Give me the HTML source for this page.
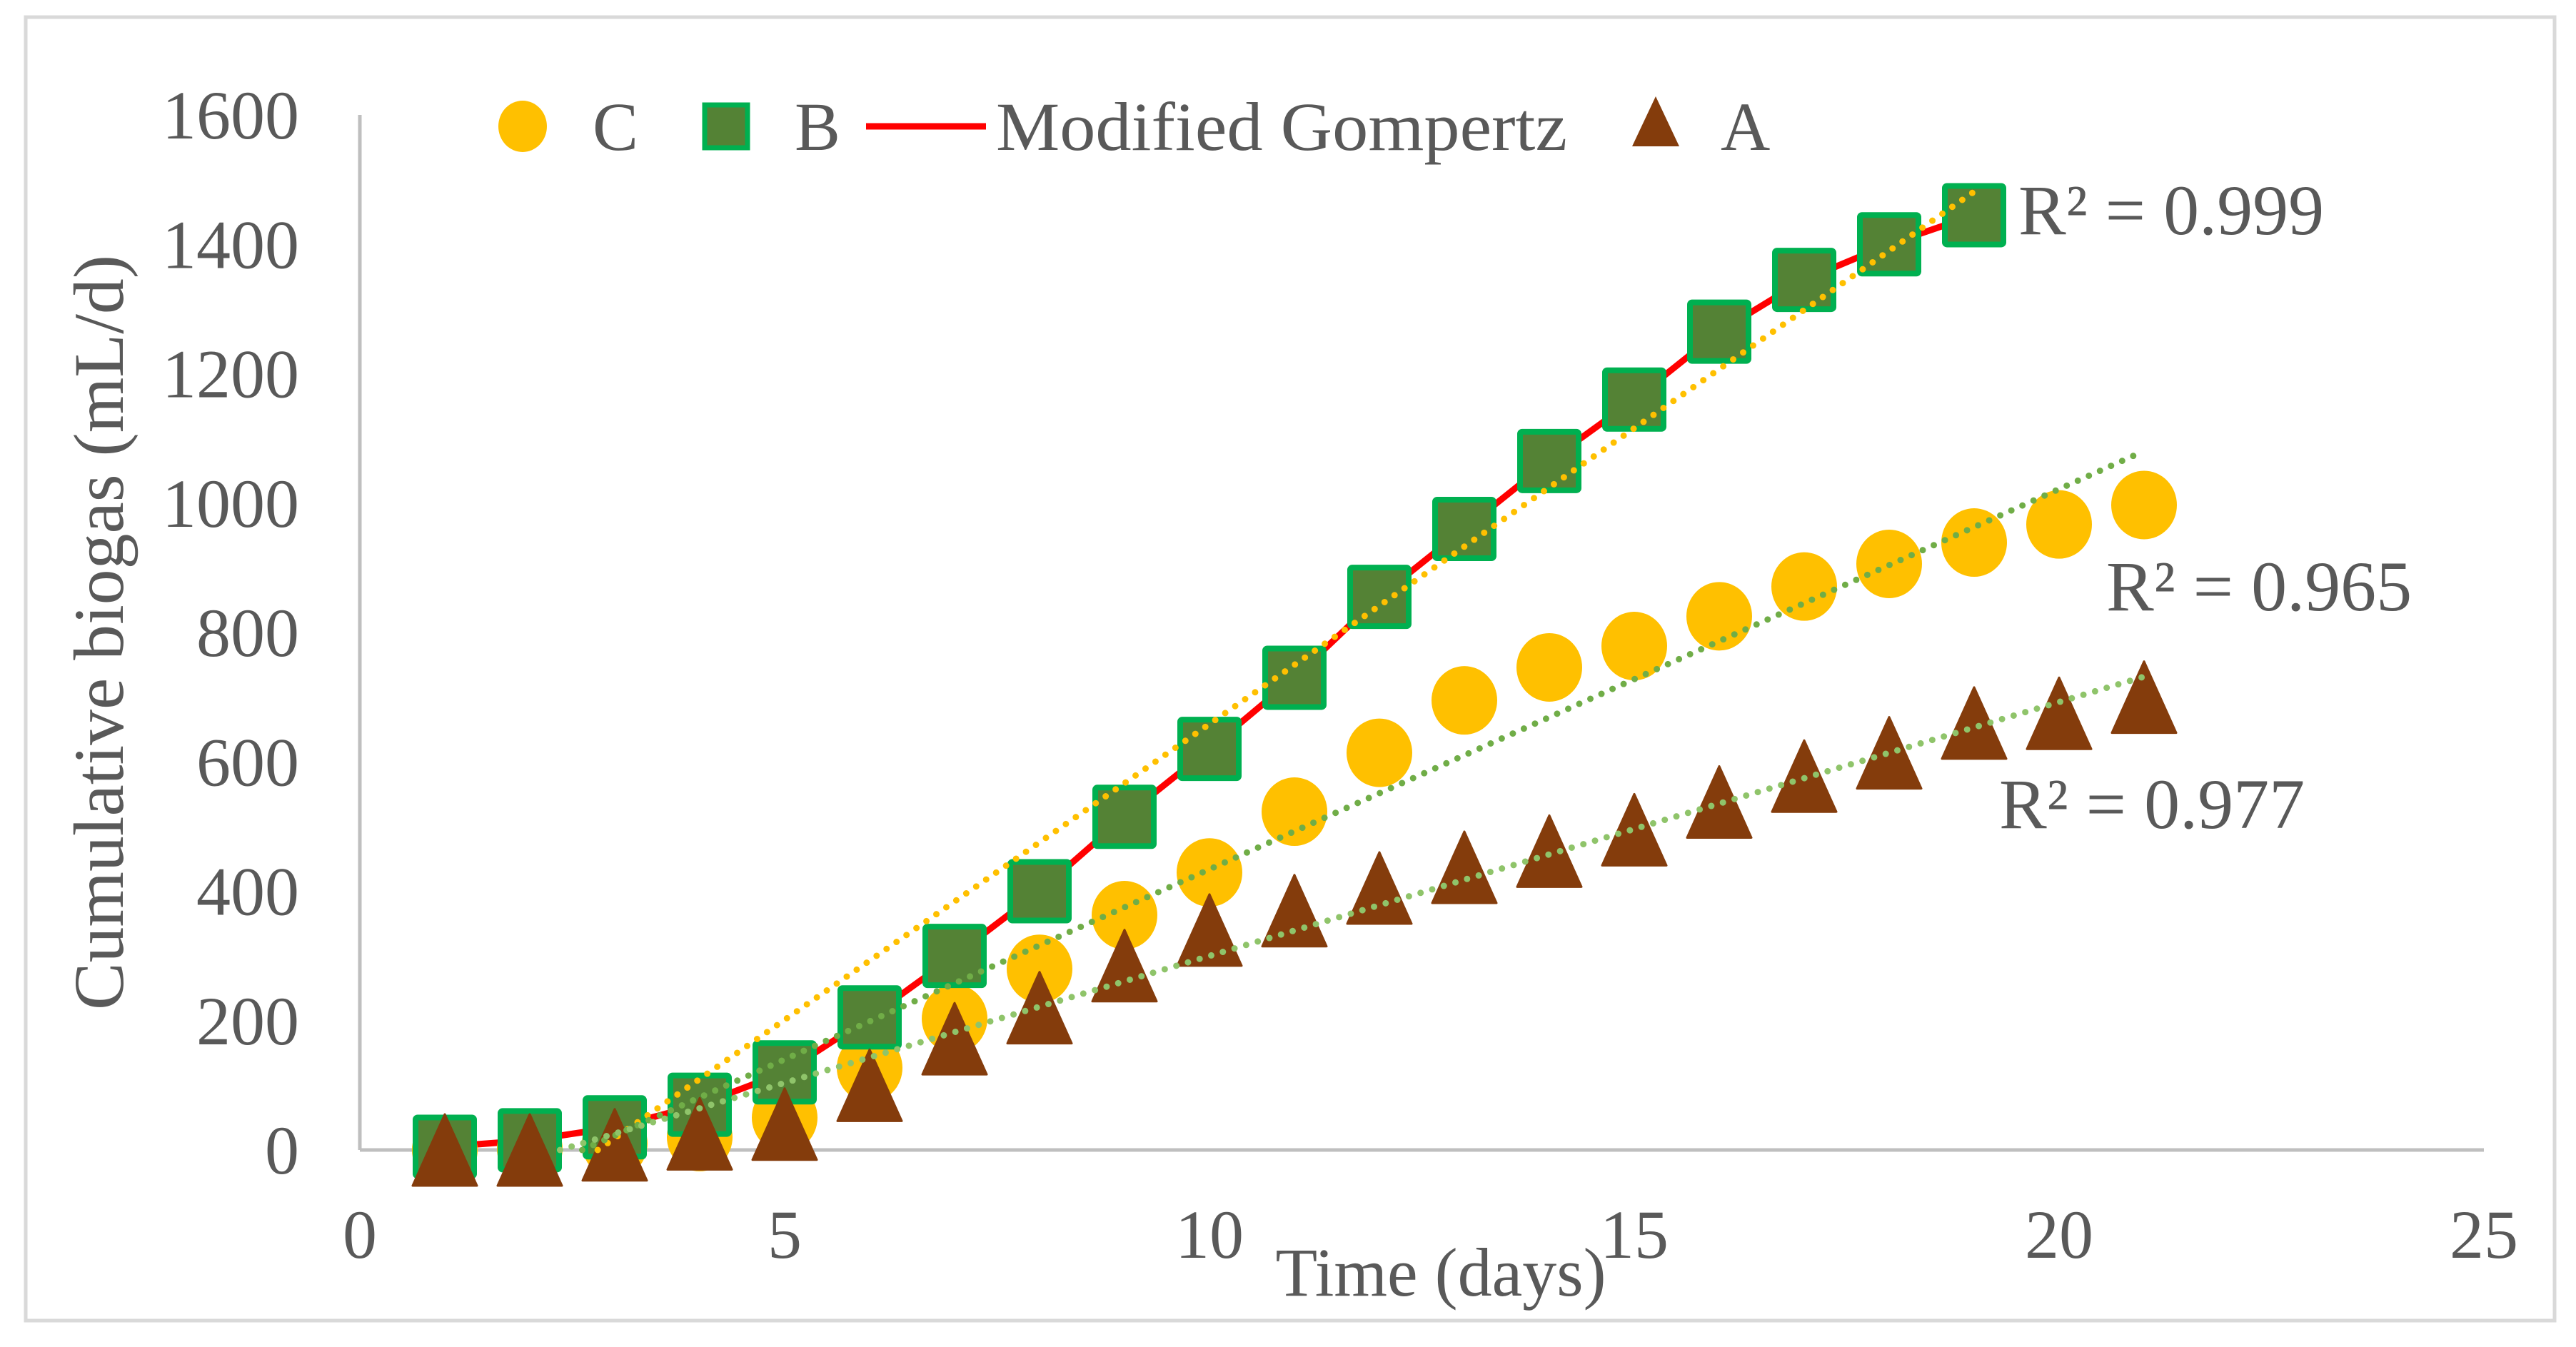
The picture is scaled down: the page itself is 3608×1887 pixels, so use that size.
<!DOCTYPE html>
<html><head><meta charset="utf-8"><style>
html,body{margin:0;padding:0;background:#fff;}
svg{display:block;}
svg text{font-family:"Liberation Serif","Times New Roman",serif;}
</style></head><body>
<svg id="chart" width="3608" height="1887" viewBox="0 0 3608 1887" xmlns="http://www.w3.org/2000/svg" font-family="Liberation Serif, serif">
<rect x="36" y="24" width="3542" height="1826" fill="#fff" stroke="#d9d9d9" stroke-width="5"/>
<g id="grid"></g>
<g id="marks"></g>
<g id="labels"></g>
</svg>
<script>
const daysB = [1,2,3,4,5,6,7,8,9,10,11,12,13,14,15,16,17,18,19];
const seriesB = [5,15,35,70,120,205,300,400,515,620,730,855,960,1065,1160,1265,1345,1400,1445];
const daysAC = [1,2,3,4,5,6,7,8,9,10,11,12,13,14,15,16,17,18,19,20,21];
const seriesC = [0,2,10,20,50,127,203,280,363,429,523,614,695,746,779,825,871,906,939,967,997];
const seriesA = [0,0,8,25,40,100,172,220,285,340,370,405,437,462,495,538,578,614,660,675,700];
const xTicks = [0,5,10,15,20,25];
const yTicks = [0,200,400,600,800,1000,1200,1400,1600];
const r2Labels = ["R² = 0.999","R² = 0.965","R² = 0.977"];

const NS="http://www.w3.org/2000/svg";
const FONT='"Liberation Serif", serif';
const X0=504,X1=3479,Y0=1611,Y1=161;
const xs=v=>X0+(v-0)/25*(X1-X0);
const ys=v=>Y0-(v-0)/1600*(Y0-Y1);
function mk(tag,attrs,parent){const e=document.createElementNS(NS,tag);for(const k in attrs)e.setAttribute(k,attrs[k]);if(tag==='text')e.style.fontFamily=FONT;parent.appendChild(e);return e;}
const grid=document.getElementById('grid'),marks=document.getElementById('marks'),labels=document.getElementById('labels');

let ax=mk('line',{x1:X0,y1:Y1,x2:X0,y2:Y0,stroke:'#bfbfbf','stroke-width':5},grid);


ax=mk('line',{x1:X0,y1:Y0,x2:X1,y2:Y0,stroke:'#bfbfbf','stroke-width':5},grid);



yTicks.forEach(v=>{const t=mk('text',{x:419,y:ys(v)+33,'text-anchor':'end','font-size':96,fill:'#595959'},labels);t.textContent=v;

});
xTicks.forEach(v=>{const t=mk('text',{x:xs(v),y:1762,'text-anchor':'middle','font-size':96,fill:'#595959'},labels);t.textContent=v;

});

let t=mk('text',{x:0,y:0,'text-anchor':'middle','font-size':100,fill:'#595959',textLength:1058,lengthAdjust:'spacingAndGlyphs',transform:'translate(172,886) rotate(-90)'},labels);
t.textContent='Cumulative biogas (mL/d)';


t=mk('text',{x:2018,y:1815,'text-anchor':'middle','font-size':96,fill:'#595959'},labels);
t.textContent='Time (days)';



function trend(xv,yv,xmax,color,width,name){
  const n=xv.length;let sx=0,sy=0,sxx=0,sxy=0;
  for(let i=0;i<n;i++){sx+=xv[i];sy+=yv[i];sxx+=xv[i]*xv[i];sxy+=xv[i]*yv[i];}
  const b=(n*sxy-sx*sy)/(n*sxx-sx*sx),a=(sy-b*sx)/n;
  let xa=xv[0];if(a+b*xa<0)xa=-a/b;
  const l=mk('line',{x1:xs(xa),y1:ys(a+b*xa),x2:xs(xmax),y2:ys(a+b*xmax),stroke:color,'stroke-width':width,'stroke-dasharray':'0 17','stroke-linecap':'round'},marks);
  
  
}

let d='';daysB.forEach((x,i)=>{d+=(i?'L':'M')+xs(x)+','+ys(seriesB[i]);});
let g=mk('path',{d:d,fill:'none',stroke:'#ff0000','stroke-width':9,'stroke-linejoin':'round'},marks);



seriesC.forEach((v,i)=>{const c=mk('ellipse',{cx:xs(daysAC[i]),cy:ys(v),rx:46,ry:48,fill:'#ffc000'},marks);

});
seriesB.forEach((v,i)=>{const r=mk('rect',{x:xs(daysB[i])-41,y:ys(v)-41,width:82,height:82,rx:3,fill:'#548235',stroke:'#00b050','stroke-width':8},marks);

});
seriesA.forEach((v,i)=>{const x=xs(daysAC[i]),y=ys(v)+8;const p=mk('polygon',{points:`${x},${y-58} ${x+45},${y+42} ${x-45},${y+42}`,fill:'#843c0c','stroke-linejoin':'round',stroke:'#843c0c','stroke-width':3},marks);

});

trend(daysB,seriesB,19,'#ffc000',9,'trendline-b');
trend(daysAC,seriesC,21,'#70ad47',9,'trendline-c');
trend(daysAC,seriesA,21,'#8fc46a',9,'trendline-a');

const r2pos=[[2827,328],[2950,855],[2800,1160]];
r2Labels.forEach((s,i)=>{const e=mk('text',{x:r2pos[i][0],y:r2pos[i][1],'font-size':100,fill:'#595959'},labels);e.textContent=s;

});

const lg=mk('g',{},labels);


let e=mk('ellipse',{cx:732,cy:177,rx:34,ry:36,fill:'#ffc000'},lg);


e=mk('text',{x:830,y:210,'font-size':96,fill:'#595959'},lg);e.textContent='C';


e=mk('rect',{x:987,y:147,width:60,height:60,fill:'#548235',stroke:'#00b050','stroke-width':7},lg);


e=mk('text',{x:1113,y:210,'font-size':96,fill:'#595959'},lg);e.textContent='B';


e=mk('line',{x1:1213,y1:177,x2:1381,y2:177,stroke:'#ff0000','stroke-width':9},lg);


e=mk('text',{x:1395,y:210,'font-size':96,fill:'#595959',textLength:800,lengthAdjust:'spacingAndGlyphs'},lg);e.textContent='Modified Gompertz';


e=mk('polygon',{points:'2319,135 2352,205 2286,205',fill:'#843c0c'},lg);


e=mk('text',{x:2410,y:210,'font-size':96,fill:'#595959'},lg);e.textContent='A';


</script>
</body></html>
